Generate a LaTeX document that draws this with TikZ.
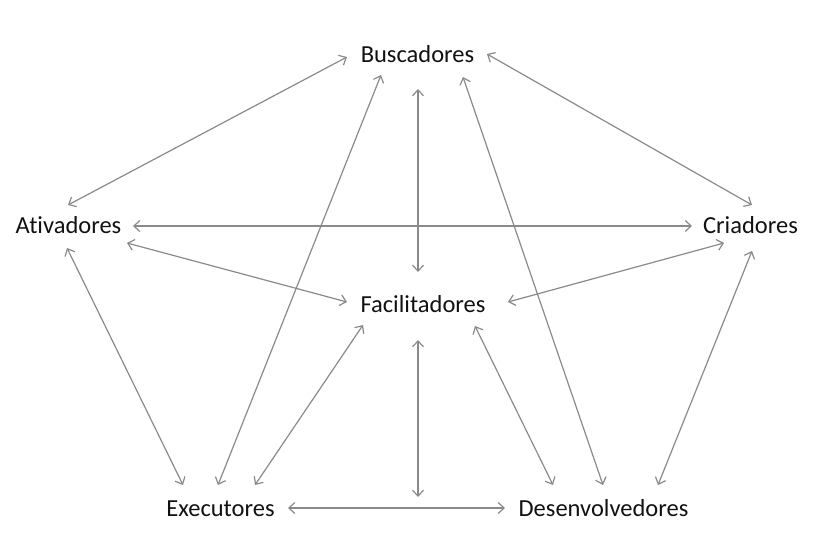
\documentclass[tikz,border=0pt]{standalone}
\usepackage{fontspec}
\setmainfont{Carlito}[Ligatures=NoCommon]
\usetikzlibrary{arrows.meta}
\definecolor{arrowgray}{HTML}{8A8A8A}
\definecolor{textblack}{HTML}{111111}
\begin{document}
\begin{tikzpicture}[x=1pt,y=-1pt,
  lbl/.style={anchor=base, inner sep=0pt, text=textblack, font=\fontsize{24.5}{29}\selectfont},
  link/.style={draw=arrowgray, line width=1.2pt,
    {Straight Barb[length=6pt,width=11pt]}-{Straight Barb[length=6pt,width=11pt]}}]
\useasboundingbox (0,0) rectangle (830,533);
\node[lbl] (bus) at (417.5,62) {Buscadores};
\node[lbl] (fac) at (423,312) {Facilitadores};
\node[lbl] (ati) at (68.5,233) {Ativadores};
\node[lbl] (cri) at (750.5,233) {Criadores};
\node[lbl] (exe) at (220.5,516) {Executores};
\node[lbl] (des) at (603.5,516) {Desenvolvedores};
\coordinate (bot) at (418,497);
% connectors
\draw[link] ([shift={(-70.5,-5)}]bus.base) -- ([shift={(-0.5,-28)}]ati.base);
\draw[link] ([shift={(69.5,-8)}]bus.base) -- ([shift={(1.5,-28)}]cri.base);
\draw[link] ([shift={(0.5,27)}]bus.base) -- ([shift={(-5,-40)}]fac.base);
\draw[link] ([shift={(-36.5,13)}]bus.base) -- ([shift={(-2.5,-31)}]exe.base);
\draw[link] ([shift={(45.5,15)}]bus.base) -- ([shift={(-0.5,-31)}]des.base);
\draw[link] ([shift={(64.5,-7)}]ati.base) -- ([shift={(-58.5,-7)}]cri.base);
\draw[link] ([shift={(58.5,10)}]ati.base) -- ([shift={(-76,-10)}]fac.base);
\draw[link] ([shift={(-26.5,10)}]cri.base) -- ([shift={(85,-10)}]fac.base);
\draw[link] ([shift={(-1.5,15)}]ati.base) -- ([shift={(-37.5,-31)}]exe.base);
\draw[link] ([shift={(1.5,18)}]cri.base) -- ([shift={(54.5,-31)}]des.base);
\draw[link] ([shift={(-60,13)}]fac.base) -- ([shift={(34.5,-31)}]exe.base);
\draw[link] ([shift={(52,14)}]fac.base) -- ([shift={(-50.5,-31)}]des.base);
\draw[link] ([shift={(-5,28)}]fac.base) -- (bot);
\draw[link] ([shift={(67.5,-8)}]exe.base) -- ([shift={(-98.5,-8)}]des.base);
\end{tikzpicture}
\end{document}
